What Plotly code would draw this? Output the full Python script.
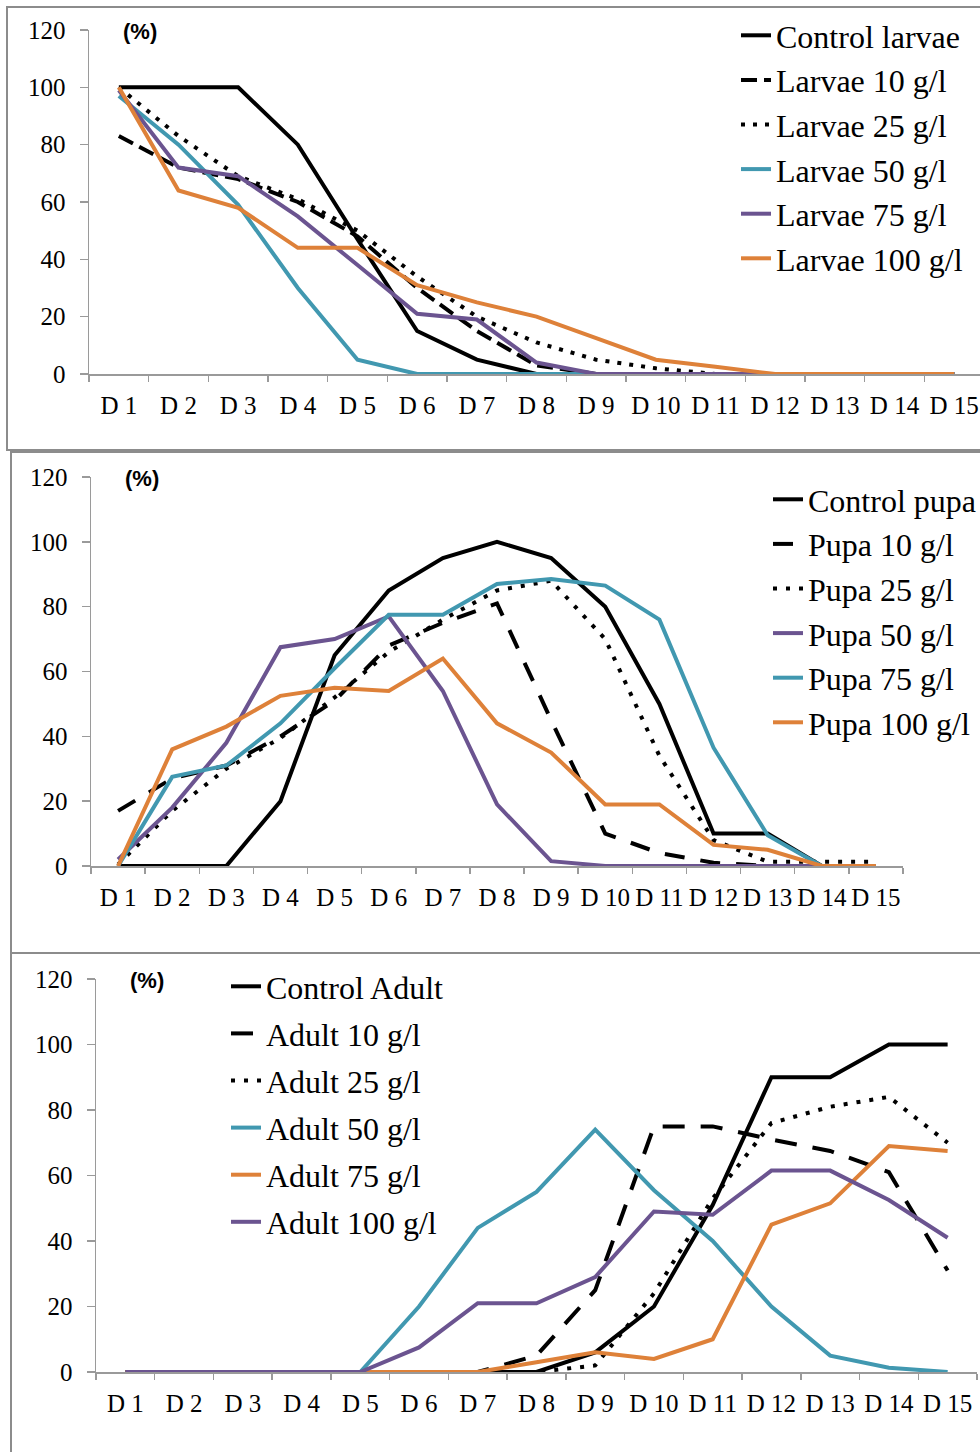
import plotly.graph_objects as go

W, H = 980, 1452

days = ["D 1", "D 2", "D 3", "D 4", "D 5", "D 6", "D 7", "D 8", "D 9", "D 10",
        "D 11", "D 12", "D 13", "D 14", "D 15"]

# Panel 1: larvae
larvae_names = ["Control larvae", "Larvae 10 g/l", "Larvae 25 g/l",
                "Larvae 50 g/l", "Larvae 75 g/l", "Larvae 100 g/l"]
larvae_control = [100, 100, 100, 80, 47, 15, 5, 0, 0, 0, 0, 0, 0, 0, 0]
larvae_10 = [83, 72, 68, 60, 48, 30, 15, 3, 0, 0, 0, 0, 0, 0, 0]
larvae_25 = [100, 83, 69, 61, 50, 34, 20, 11, 5, 2, 0, 0, 0, 0, 0]
larvae_50 = [97, 80, 59, 30, 5, 0, 0, 0, 0, 0, 0, 0, 0, 0, 0]
larvae_75 = [99, 72, 69, 55, 38, 21, 19, 4, 0, 0, 0, 0, 0, 0, 0]
larvae_100 = [100, 64, 58, 44, 44, 31, 25, 20, 12.5, 5, 2.5, 0, 0, 0, 0]

# Panel 2: pupa
pupa_names = ["Control pupa", "Pupa 10 g/l", "Pupa 25 g/l",
              "Pupa 50 g/l", "Pupa 75 g/l", "Pupa 100 g/l"]
pupa_control = [0, 0, 0, 20, 65, 85, 95, 100, 95, 80, 50, 10, 10, 0, 0]
pupa_10 = [17, 27, 31, 40, 51, 68, 75, 81, 45, 10, 4, 1, 0, 0, 0]
pupa_25 = [0.5, 17, 30, 39.5, 52, 66, 76, 85, 88, 70, 34, 8, 1.3, 1.3, 1.3]
pupa_50 = [2, 18, 38, 67.5, 70, 77, 54, 19, 1.5, 0, 0, 0, 0, 0, 0]
pupa_75 = [0, 27.5, 31, 44, 61, 77.5, 77.5, 87, 88.5, 86.5, 76, 36.5, 9.5, 0, 0]
pupa_100 = [0, 36, 43, 52.5, 55, 54, 64, 44, 35, 19, 19, 6.5, 5, 0, 0]

# Panel 3: adult
adult_names = ["Control Adult", "Adult 10 g/l", "Adult 25 g/l",
               "Adult 50 g/l", "Adult 75 g/l", "Adult 100 g/l"]
adult_control = [0, 0, 0, 0, 0, 0, 0, 0, 6, 20, 51, 90, 90, 100, 100]
adult_10 = [0, 0, 0, 0, 0, 0, 0, 5, 25, 75, 75, 71, 67.5, 61, 31]
adult_25 = [0, 0, 0, 0, 0, 0, 0, 0, 2, 24, 53, 76, 81, 84, 70]
adult_50 = [0, 0, 0, 0, 0, 20, 44, 55, 74, 55.5, 40, 20, 5, 1.3, 0]
adult_75 = [0, 0, 0, 0, 0, 0, 0, 3, 6, 4, 10, 45, 51.5, 69, 67.5]
adult_100 = [0, 0, 0, 0, 0, 7.5, 21, 21, 29, 49, 48, 61.5, 61.5, 52.5, 41]

BLACK = "#000000"
TEAL = "#4198B0"
PURPLE = "#6B5490"
ORANGE = "#DE8139"
GRAY = "#8C8C8C"
AXIS = "#9A9A9A"
SERIF = "Liberation Serif, Times New Roman, serif"

panels = [
    dict(names=larvae_names,
         series=[larvae_control, larvae_10, larvae_25, larvae_50, larvae_75, larvae_100],
         colors=[BLACK, BLACK, BLACK, TEAL, PURPLE, ORANGE],
         dashes=["solid", "16px,7px", "4px,8px", "solid", "solid", "solid"],
         x0=89, x1=984, y0=374, y1=30, legend_x=736, legend_y=8),
    dict(names=pupa_names,
         series=[pupa_control, pupa_10, pupa_25, pupa_50, pupa_75, pupa_100],
         colors=[BLACK, BLACK, BLACK, PURPLE, TEAL, ORANGE],
         dashes=["solid", "20px,16px", "4px,9px", "solid", "solid", "solid"],
         x0=91, x1=903, y0=866, y1=477, legend_x=768, legend_y=472),
    dict(names=adult_names,
         series=[adult_control, adult_10, adult_25, adult_50, adult_75, adult_100],
         colors=[BLACK, BLACK, BLACK, TEAL, ORANGE, PURPLE],
         dashes=["solid", "22px,16px", "4px,9px", "solid", "solid", "solid"],
         x0=96, x1=977, y0=1372, y1=979, legend_x=226, legend_y=959),
]

fig = go.Figure()
layout = dict(width=W, height=H, margin=dict(l=0, r=0, t=0, b=0, autoexpand=False),
              template="none",
              paper_bgcolor="white", plot_bgcolor="rgba(0,0,0,0)",
              showlegend=True, shapes=[], annotations=[])

for i, p in enumerate(panels):
    k = "" if i == 0 else str(i + 1)
    leg = "legend" + k
    for j, (nm, ys) in enumerate(zip(p["names"], p["series"])):
        fig.add_trace(go.Scatter(
            x=days, y=ys, name=nm, mode="lines",
            xaxis="x" + k, yaxis="y" + k, legend=leg,
            legendgroup=f"g{i}_{j}",
            line=dict(color=p["colors"][j], width=4, dash=p["dashes"][j]),
        ))
    cw = (p["x1"] - p["x0"]) / 15.0
    xr_right = 14.5 - max(0, p["x1"] - W) / cw
    x1 = min(p["x1"], W)
    layout["xaxis" + k] = dict(
        domain=[p["x0"] / W, x1 / W], anchor="y" + k,
        type="category", range=[-0.5, xr_right], automargin=False,
        showline=True, linecolor=AXIS, linewidth=1.5,
        ticks="outside", ticklen=6, tickcolor=AXIS, tickwidth=1.5,
        tickson="boundaries", showgrid=False, zeroline=False, tickangle=0,
        tickfont=dict(family=SERIF, size=25, color="black"),
        ticklabelstandoff=8, fixedrange=True,
    )
    layout["yaxis" + k] = dict(
        domain=[1 - p["y0"] / H, 1 - p["y1"] / H], anchor="x" + k,
        range=[0, 120], tickvals=[0, 20, 40, 60, 80, 100, 120], automargin=False,
        showline=True, linecolor=AXIS, linewidth=1.5,
        ticks="outside", ticklen=8, tickcolor=AXIS, tickwidth=1.5,
        showgrid=False, zeroline=False,
        tickfont=dict(family=SERIF, size=25, color="black"),
        ticklabelstandoff=9, fixedrange=True,
    )
    layout[leg] = dict(
        x=p["legend_x"] / W, y=1 - p["legend_y"] / H,
        xanchor="left", yanchor="top",
        bgcolor="rgba(0,0,0,0)", borderwidth=0,
        font=dict(family=SERIF, size=32, color="black"),
        traceorder="grouped", tracegroupgap=(2.5 if i == 2 else 0),
        itemwidth=30,
    )
    layout["annotations"].append(dict(
        text="<b>(%)</b>", xref="paper", yref="paper",
        x=(p["x0"] + 32) / W, y=1 - (p["y1"] + 1) / H,
        xanchor="left", yanchor="middle", showarrow=False,
        font=dict(family="Liberation Sans, Arial, sans-serif", size=22, color="black"),
    ))

# panel frames
frames = [(7, 7, 450), (11, 452, 953), (11, 953, 1470)]
for (fx, ft, fb) in frames:
    layout["shapes"].append(dict(
        type="rect", xref="paper", yref="paper",
        x0=fx / W, x1=1.05, y0=1 - fb / H, y1=1 - ft / H,
        line=dict(color=GRAY, width=2), fillcolor="rgba(0,0,0,0)", layer="below",
    ))

fig.update_layout(**layout)
fig.write_html(
    "out.html",
    config={"displayModeBar": False, "staticPlot": True},
    post_script="document.body.style.margin='0';document.body.style.overflow='hidden';",
)
